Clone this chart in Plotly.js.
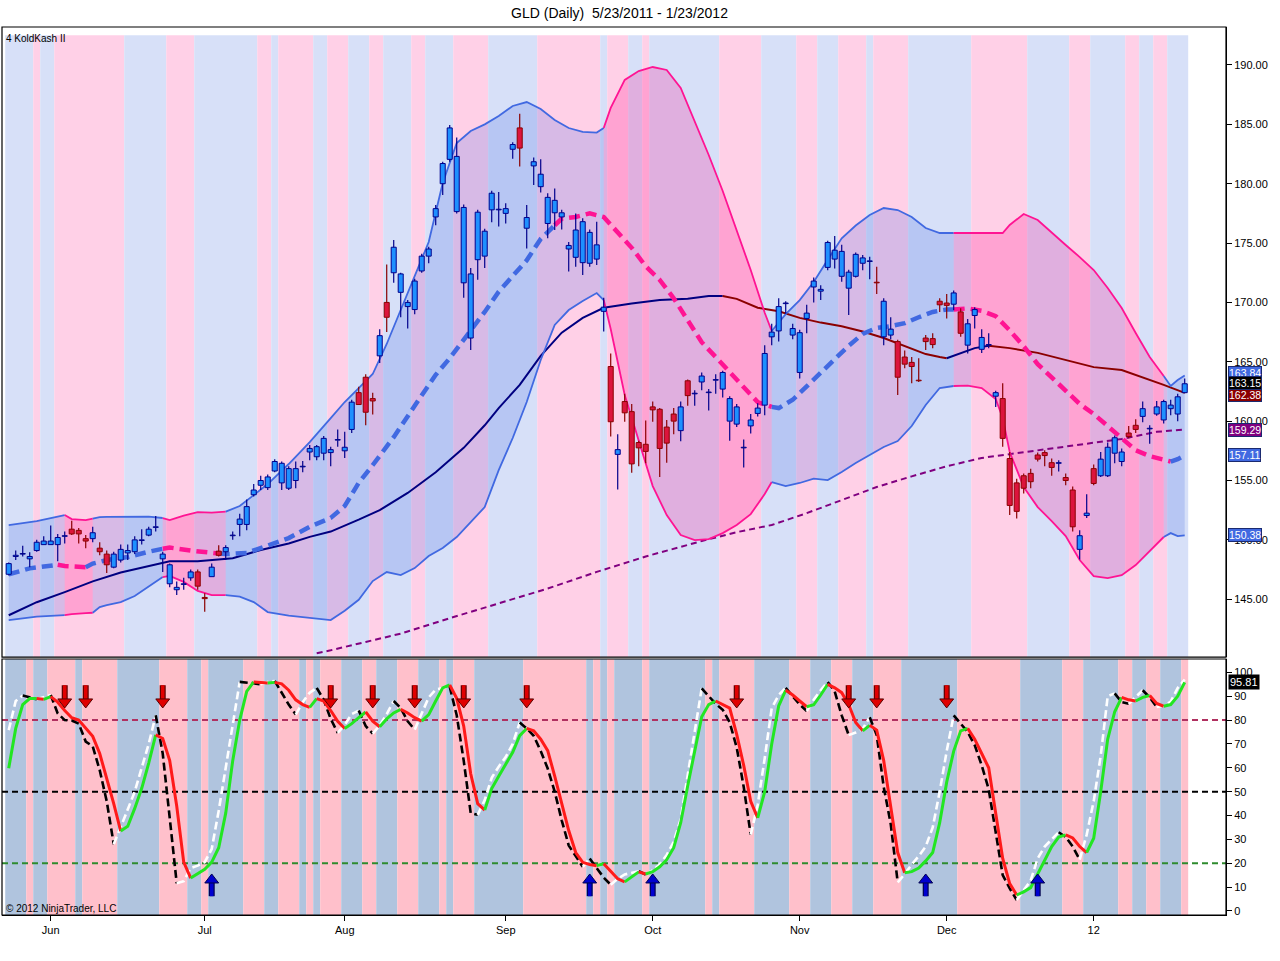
<!DOCTYPE html>
<html>
<head>
<meta charset="utf-8">
<script src="https://cdn.plot.ly/plotly-3.0.1.min.js"></script>
<style>html,body{margin:0;padding:0;background:#fff}#chart{width:1280px;height:961px}</style>
</head>
<body>
<div id="chart"></div>
<script>
// ---------------- DATA ----------------
const chartTitle = 'GLD (Daily)  5/23/2011 - 1/23/2012';
const monthTickIdx = [6, 28, 48, 71, 92, 113, 134, 155];
const monthTickText = ['Jun', 'Jul', 'Aug', 'Sep', 'Oct', 'Nov', 'Dec', '12'];
const priceTicks = [145, 150, 155, 160, 165, 170, 175, 180, 185, 190];
const oscTicks = [0, 10, 20, 30, 40, 50, 60, 70, 80, 90, 100];

const openP = [147.1,148.6,148.8,148.4,149.1,149.6,149.6,149.6,150.3,150.9,
150.8,150.1,150.1,149.3,148.8,147.7,148.3,148.9,149.0,149.95,
150.4,151.05,148.4,146.3,145.8,146.25,146.8,147.3,145.15,146.9,
149.05,149.0,150.35,151.3,151.3,153.8,154.6,154.4,155.8,154.8,
154.35,155.0,156.15,157.4,157.0,157.3,157.35,158.4,157.5,159.3,
162.4,163.7,161.9,165.5,170.0,172.5,170.85,169.65,169.4,172.65,
173.9,177.2,180.0,182.05,177.65,171.65,167.0,173.6,173.9,177.8,
177.8,177.5,182.9,184.7,176.25,181.5,179.75,176.65,177.55,177.2,
174.5,173.8,173.35,173.3,173.65,169.25,164.6,157.2,161.65,160.8,
158.2,158.05,161.2,161.0,159.5,160.6,159.2,163.4,162.3,163.3,
162.4,163.45,162.7,160.0,159.75,157.75,159.6,160.65,161.35,167.1,
167.6,169.9,167.25,164.1,168.65,171.3,170.95,172.95,173.65,172.2,
171.2,172.2,173.3,173.45,171.7,167.1,167.25,166.7,165.4,164.95,
163.45,167.0,166.95,170.1,169.95,169.85,169.2,166.4,168.9,166.05,
166.4,162.1,161.9,156.85,154.8,155.4,155.6,157.15,157.35,156.5,
156.45,155.25,154.2,149.2,152.05,156.0,155.4,155.4,157.3,156.6,
159.0,159.65,160.4,159.35,160.6,160.1,161.05,160.6,162.4];

const highP = [148.1,149.1,149.5,148.95,150.0,150.3,151.2,150.5,150.7,151.6,
151.0,150.4,151.1,149.8,149.1,149.0,149.6,149.6,150.3,150.9,
151.1,152.0,149.0,148.0,146.5,146.8,147.5,147.5,145.5,148.0,
149.55,149.55,150.7,152.2,153.4,154.7,155.4,155.5,156.8,156.6,
156.2,156.6,156.65,158.0,158.0,158.75,157.85,159.3,159.1,161.8,
162.9,163.95,162.4,167.75,173.2,175.25,172.5,170.2,172.0,174.1,
174.7,178.2,181.85,184.95,183.9,178.25,172.9,177.8,176.2,179.4,
179.3,178.35,183.5,185.9,178.2,182.2,182.05,179.2,179.6,177.8,
175.1,177.5,177.1,176.15,176.8,170.4,165.7,158.9,162.3,161.45,
158.35,160.05,161.65,161.1,160.1,161.1,161.65,163.5,162.6,164.1,
162.7,163.95,164.25,162.1,161.45,158.45,160.6,161.5,166.4,168.2,
170.35,170.1,168.2,167.7,169.8,172.1,171.45,175.2,175.6,174.85,
172.75,174.2,174.0,173.85,173.0,170.35,168.75,166.85,165.95,165.4,
165.3,167.25,167.4,170.35,170.7,171.0,169.5,168.6,169.6,167.75,
167.4,162.55,163.2,157.4,155.15,155.6,156.0,157.35,157.55,156.85,
156.7,155.6,154.5,150.8,153.85,156.35,157.4,158.2,158.8,157.7,
159.6,160.15,161.65,159.65,161.7,161.8,161.8,162.3,163.6];

const lowP = [147.0,148.3,148.6,147.7,149.0,149.6,149.6,148.2,149.7,150.4,
149.7,149.3,149.8,148.7,147.2,147.6,148.1,148.3,148.8,149.6,
150.3,150.7,147.3,146.0,145.35,145.8,146.55,145.8,143.95,146.9,
148.6,148.3,150.0,150.3,150.8,153.65,154.2,154.2,155.7,154.2,
154.2,154.35,155.7,156.7,156.7,156.7,156.2,157.85,156.9,159.0,
161.35,159.65,160.55,164.9,167.5,171.65,168.75,167.8,169.0,172.5,
173.3,176.5,179.05,181.85,177.5,170.4,166.0,171.9,172.9,176.75,
176.4,176.65,182.1,181.45,174.55,179.9,179.25,175.4,176.1,176.15,
172.6,173.0,172.3,173.0,173.15,167.55,158.7,154.25,159.95,155.65,
156.2,156.45,159.95,155.3,156.5,158.9,158.3,161.3,161.3,162.6,
160.9,162.3,162.0,158.35,159.5,156.1,158.95,160.4,160.5,166.4,
166.7,169.05,166.9,163.6,167.4,170.0,170.2,172.7,172.85,171.75,
168.95,172.1,172.7,171.95,170.7,166.4,166.9,162.2,164.45,163.2,
163.3,166.0,166.15,169.2,168.65,169.35,167.1,165.7,167.8,165.75,
166.15,161.2,157.85,152.1,151.8,153.9,154.35,156.6,156.2,155.4,
155.75,154.6,150.7,148.35,151.85,154.6,155.3,155.3,156.45,156.2,
158.55,159.0,159.9,158.1,160.45,159.8,160.5,160.0,162.35];

const closeP = [148.0,148.7,148.85,148.6,149.8,149.9,149.9,150.2,150.35,150.5,
150.5,149.9,150.6,149.0,147.9,148.8,149.2,149.1,150.0,150.0,
150.9,151.1,148.8,147.9,146.0,146.3,147.3,146.1,145.05,147.7,
148.7,149.35,150.4,151.75,152.8,154.2,155.0,155.3,156.6,156.45,
156.0,156.0,156.2,157.7,157.85,158.55,157.6,158.45,157.8,161.6,
161.4,160.75,161.7,167.2,168.75,174.65,172.4,170.0,171.8,173.9,
174.5,177.9,181.7,184.7,182.3,178.0,172.4,177.6,176.0,179.2,
177.85,177.9,183.3,183.0,177.15,181.85,180.8,178.85,178.6,177.55,
174.8,176.1,176.8,175.9,174.85,169.6,159.95,157.6,160.7,156.4,
157.75,157.45,160.95,157.7,158.15,160.0,161.2,162.15,162.35,163.8,
162.45,163.5,164.1,161.9,161.2,157.8,160.1,161.1,165.7,167.5,
169.65,169.95,167.8,167.45,169.1,171.8,171.1,175.05,174.4,174.3,
172.55,174.05,173.75,173.5,171.65,170.1,167.75,163.7,164.8,164.6,
163.4,166.7,166.45,169.8,169.75,170.8,167.4,168.2,169.4,167.05,
166.45,162.4,158.55,152.9,152.4,154.35,154.9,156.8,157.1,156.1,
156.5,155.0,151.1,150.35,152.25,154.75,156.8,157.8,158.6,157.4,
158.7,159.3,161.05,159.4,161.2,161.65,161.35,162.05,163.15];

// Envelope bands (read at sampled bars)
const bandIdx = [0,4,8,9,11,12,13,14,16,18,20,22,23,25,27,29,31,33,35,37,
40,43,46,48,50,52,54,56,58,60,62,64,66,68,70,72,74,76,78,80,
82,84,85,86,88,90,92,94,96,98,100,102,104,106,108,109,111,113,115,117,
119,121,123,125,127,129,131,133,135,137,139,141,142,143,145,147,149,151,153,155,
157,159,161,163,165,166,167,168];
const upperBand = [151.25,151.58,152.09,151.75,151.67,151.79,151.92,151.94,151.95,151.95,
151.95,151.84,151.67,152.05,152.34,152.30,152.38,152.85,153.77,154.70,
156.39,158.24,160.26,161.61,162.79,163.97,166.50,169.36,172.14,175.09,
180.06,183.43,184.44,185.00,185.70,186.55,186.88,186.29,185.37,184.69,
184.36,184.31,184.69,186.38,188.74,189.49,189.83,189.58,188.06,185.20,
182.42,179.39,176.05,172.73,169.13,167.59,169.02,170.20,171.72,173.60,
175.40,176.48,177.36,177.95,177.78,177.19,176.27,175.85,175.85,175.85,
175.85,175.81,175.85,176.52,177.45,176.94,175.93,174.84,173.82,172.73,
171.21,169.53,167.42,165.40,163.80,162.96,163.46,163.84];
const lowerBand = [143.24,143.54,143.66,143.75,143.83,143.86,144.34,144.51,144.76,145.27,
146.08,146.87,146.97,146.46,145.70,145.35,145.35,145.22,144.76,143.92,
143.62,143.41,143.24,144.03,144.95,146.53,147.29,147.03,147.62,148.64,
149.31,150.24,151.50,152.76,155.88,158.58,161.61,165.15,168.10,169.36,
170.12,170.79,170.20,167.76,162.20,158.41,154.53,152.09,150.40,149.98,
150.07,150.57,151.25,152.17,153.86,154.87,154.53,154.79,155.16,155.04,
155.71,156.47,157.14,157.82,158.32,159.59,161.36,162.79,162.96,163.00,
162.79,161.86,160.26,157.40,154.45,152.76,151.58,150.32,148.30,146.95,
146.78,147.03,147.88,149.06,150.24,150.57,150.32,150.38];
const bandDownRuns = [[9,12],[23,31],[86,109],[137,165]];

const midIdx = [0,3,7,8,11,12,14,17,20,22,23,26,29,30,31,34,37,40,43,46,
48,50,52,55,58,61,63,65,68,70,72,74,76,78,79,81,83,85,87,89,
91,93,95,97,99,101,103,105,107,109,110,112,114,116,118,120,122,124,126,128,
130,132,134,135,137,139,141,143,145,147,149,151,153,155,157,159,161,163,165,166,
167,168];
const midBand = [147.1,147.6,147.9,147.8,147.7,148.0,148.3,148.55,149.0,149.25,
149.35,149.1,148.95,148.85,148.8,148.9,149.5,150.15,151.1,151.85,
152.85,154.8,156.3,158.65,161.3,163.9,165.3,166.85,169.2,170.9,
172.2,173.55,175.35,176.5,177.05,177.2,177.5,177.2,175.85,174.6,
173.05,171.9,170.35,168.5,166.65,165.4,164.15,162.95,161.6,161.2,
161.1,161.8,162.95,164.05,165.25,166.35,167.35,167.85,168.0,168.25,
168.75,169.2,169.4,169.4,169.5,169.3,168.85,167.65,166.3,164.8,
163.7,162.6,161.45,160.6,159.6,158.6,157.55,157.05,156.7,156.6,
156.8,157.11];
const midDownRuns = [[8,11],[23,30],[79,109],[137,166]];

const smaIdx = [0,4,8,12,16,20,23,27,32,36,40,43,46,50,53,57,61,65,68,70,
73,76,79,82,85,89,93,97,100,102,104,107,110,113,116,119,122,125,128,131,
133,134,136,138,140,143,147,151,155,159,162,165,168];
const smaVals = [143.65,144.75,145.6,146.5,147.25,147.8,148.2,148.2,148.45,149.15,
149.7,150.25,150.7,151.7,152.5,153.95,155.7,157.75,159.65,161.1,
163.05,165.5,167.45,168.7,169.55,169.9,170.2,170.3,170.55,170.55,
170.3,169.55,169.25,168.7,168.3,168.0,167.55,167.0,166.3,165.65,
165.4,165.3,165.7,166.15,166.35,166.15,165.75,165.15,164.55,164.3,
163.7,163.05,162.38];
const smaDownRuns = [[104,134],[141,168]];

const longMaIdx = [44,46,51,56,63,70,77,84,91,99,104,109,114,119,124,129,134,139,144,149,154,159,164,168];
const longMaVals = [140.45,140.7,141.4,142.1,143.4,144.65,145.9,147.3,148.6,149.9,150.65,151.25,152.25,153.35,154.45,155.35,156.2,156.9,157.3,157.65,158.05,158.5,159.1,159.29];

// Background regimes (bar ranges that are pink)
const upperPinkRuns = [[4,4],[7,16],[23,26],[36,37],[39,43],[46,48],[52,53],[58,59],[64,68],[76,84],[86,88],[91,91],[102,107],[113,115],[119,122],[124,128],[138,145],[152,154],[160,161],[164,165]];
const lowerPinkRuns = [[3,3],[6,9],[11,15],[22,25],[28,28],[34,36],[39,41],[43,43],[45,47],[51,52],[56,58],[62,62],[64,66],[74,82],[84,84],[86,86],[91,91],[100,100],[102,106],[112,114],[118,120],[124,127],[136,144],[151,153],[159,160],[163,164],[168,168]];

// Oscillator
const oscD = [59.8,76.5,86.5,89,89,88.7,89.8,87.5,84,81,
80,76.7,73.2,66,55.6,45,33.5,35.5,43,51.4,
62,73.8,72.3,63,44,20.5,13.8,15.5,17.5,20.5,
26.5,41,63,80,92,96,95.8,95.5,95.8,95.2,
92.5,88.5,86.5,85.3,89,88,84,79.5,76.5,78.5,
81,83.4,79.5,77.2,80.5,83,84.5,83,81,79.6,
82.3,88,93.5,94.7,89.1,77.5,57.5,45,42.3,51.3,
56.5,61.5,66.5,73.5,76.5,75.5,72,67.2,56.5,44.5,
33.7,24.5,20.4,19.5,19,19.8,16.5,13.5,12.2,14.3,
16.4,15.5,16.5,18.5,21.5,26.5,37,52.5,67.5,81.4,
86.5,88,86.5,85,74,61,46,39,50,70,
86,92.5,90.5,88,85.6,86.4,90.5,95,93.5,91.5,
86.5,79,75.5,77.8,75.8,63,44,24.5,16,16.5,
18,21,24.5,37,54,67,75.5,76.5,72,66,
60,41,22,11.5,6.7,8,9.8,15.5,21.5,27,
31,31.9,30.6,27,24.5,30.5,50,72,83.5,89.5,
88.5,88,89.5,90.3,87,85.8,86.5,90,95.81];
const oscK = [75.8,88,90.3,89.5,88.7,89.6,90.5,82.8,80,79.8,
78.5,71,69,59,46,28,35,42.5,50,60,
70,82,66,39,11.6,12.5,18,19,20.5,26,
42,60,78.5,96,95.8,95.4,95,96,96.4,91.5,
86.5,82.3,87.5,91.5,93.5,88.5,80.5,74.6,78,82.5,
84,77.5,74.3,77.8,82.5,88,85,79.5,76,83,
89.5,92.8,93.4,94,82,63,41,40.3,46.5,55.8,
60.5,64.5,70,79,76.5,73.4,67,59.7,50,38,
27.5,23,18.5,22,18,14,11,13.5,15.3,16,
16.7,15.3,17,19.5,23.5,29,38.5,57,75,93.3,
90,86.8,84.3,79,68.5,52,32,44.5,64,85,
90.5,93.5,89.8,86.5,83.8,88.5,92.5,96,92,82,
73.7,74.8,76.3,81.2,73.7,52,36.5,12,15.5,19.5,
23,27,35,50,67,82,78.5,75,69.5,61,
51,32,15,9.5,4.6,8.5,12.8,22,27,30,
33,31,27,21.5,32,46,65,90,91.2,87.5,
86.8,89.5,92.5,89.5,85.5,86,87.7,93.5,97];
const oscLevels = [80, 50, 20];
const sellSignalIdx = [8,11,22,46,52,58,65,74,104,120,124,134];
const buySignalIdx = [29,83,92,131,147];

const priceFlags = [163.84, 162.38, 163.15, 159.29, 157.11, 150.38];
const oscFlag = 95.81;

// ---------------- DRAWING ----------------
const FONT = 'Liberation Sans, Arial, sans-serif';
const N = openP.length;
const barIdx = openP.map((_, i) => i);
const traces = [];

function inRuns(i, runs) { return runs.some(r => i >= r[0] && i <= r[1]); }

function codedLine(xs, ys, runs, upColor, downColor, line, yaxis) {
  const segs = []; let cur = null;
  for (let k = 1; k < xs.length; k++) {
    const down = inRuns(xs[k], runs);
    if (!cur || cur.down !== down) { cur = {down, x: [xs[k-1]], y: [ys[k-1]]}; segs.push(cur); }
    cur.x.push(xs[k]); cur.y.push(ys[k]);
  }
  segs.forEach(s => traces.push({type: 'scatter', mode: 'lines', x: s.x, y: s.y, xaxis: 'x', yaxis,
    line: Object.assign({}, line, {color: s.down ? downColor : upColor}), hoverinfo: 'skip', showlegend: false}));
}

function slopeLine(vals, upColor, downColor, line) {
  const segs = []; let cur = null;
  for (let k = 1; k < vals.length; k++) {
    const up = vals[k] >= vals[k-1];
    if (!cur || cur.up !== up) { cur = {up, x: [k-1], y: [vals[k-1]]}; segs.push(cur); }
    cur.x.push(k); cur.y.push(vals[k]);
  }
  segs.forEach(s => traces.push({type: 'scatter', mode: 'lines', x: s.x, y: s.y, xaxis: 'x', yaxis: 'y2',
    line: Object.assign({}, line, {color: s.up ? upColor : downColor}), hoverinfo: 'skip', showlegend: false}));
}

// band fills
(function () {
  const code = k => inRuns(bandIdx[k], bandDownRuns);
  let k = 1;
  while (k < bandIdx.length) {
    const c = code(k); let end = k;
    while (end + 1 < bandIdx.length && code(end + 1) === c) end++;
    const xs = [], ys = [];
    for (let j = k - 1; j <= end; j++) { xs.push(bandIdx[j]); ys.push(upperBand[j]); }
    for (let j = end; j >= k - 1; j--) { xs.push(bandIdx[j]); ys.push(lowerBand[j]); }
    traces.push({type: 'scatter', mode: 'lines', x: xs, y: ys, fill: 'toself',
      fillcolor: c ? 'rgba(255,20,147,0.24)' : 'rgba(65,105,225,0.21)', line: {width: 0},
      xaxis: 'x', yaxis: 'y', hoverinfo: 'skip', showlegend: false});
    k = end + 1;
  }
})();

// long MA
traces.push({type: 'scatter', mode: 'lines', x: longMaIdx, y: longMaVals, xaxis: 'x', yaxis: 'y',
  line: {color: '#800080', width: 2, dash: '6px,4px'}, hoverinfo: 'skip', showlegend: false});
// SMA
codedLine(smaIdx, smaVals, smaDownRuns, '#000080', '#8b0000', {width: 2}, 'y');
// upper / lower band lines
codedLine(bandIdx, upperBand, bandDownRuns, '#4169e1', '#ff1493', {width: 1.8}, 'y');
codedLine(bandIdx, lowerBand, bandDownRuns, '#4169e1', '#ff1493', {width: 1.8}, 'y');
// middle band
codedLine(midIdx, midBand, midDownRuns, '#4169e1', '#ff1493', {width: 4.5, dash: '11px,6px'}, 'y');

// candles (overlay axis so they sit above the indicator lines)
const isUp = closeP.map((c, i) => c >= openP[i]);
const bodyLo = openP.map((o, i) => Math.min(o, closeP[i]));
const bodyHi = openP.map((o, i) => Math.max(o, closeP[i]));
['up', 'down'].forEach(kind => {
  const xs = [], ys = [];
  barIdx.forEach(i => {
    if ((kind === 'up') !== isUp[i]) return;
    xs.push(i, i, null, i, i, null);
    ys.push(lowP[i], bodyLo[i], null, bodyHi[i], highP[i], null);
  });
  traces.push({type: 'scatter', mode: 'lines', x: xs, y: ys, xaxis: 'x', yaxis: 'y3',
    line: {color: kind === 'up' ? '#00008b' : '#8b0000', width: 1.2}, hoverinfo: 'skip', showlegend: false, connectgaps: false});
});
traces.push({type: 'bar', x: barIdx, base: bodyLo, y: bodyHi.map((h, i) => Math.max(h - bodyLo[i], 0.03)),
  width: 0.72, xaxis: 'x', yaxis: 'y3',
  marker: {color: isUp.map(u => u ? '#1e90ff' : '#dc143c'), line: {color: isUp.map(u => u ? '#00008b' : '#8b0000'), width: 1}},
  hoverinfo: 'skip', showlegend: false});

// oscillator
slopeLine(oscK, '#ffffff', '#000000', {width: 2.6, dash: '8px,4px'});
slopeLine(oscD, '#22e622', '#ff1a1a', {width: 3});

// signal arrows: shaft (outlined) + head, placed at the signal bars
function arrows(idxs, shaftFrom, shaftTo, headAt, symbol, fill, edge) {
  const sx = [], sy = [];
  idxs.forEach(i => { sx.push(i, i, null); sy.push(shaftFrom, shaftTo, null); });
  traces.push({type: 'scatter', mode: 'lines', x: sx, y: sy, xaxis: 'x', yaxis: 'y2',
    line: {color: edge, width: 6}, hoverinfo: 'skip', showlegend: false});
  traces.push({type: 'scatter', mode: 'lines', x: sx, y: sy, xaxis: 'x', yaxis: 'y2',
    line: {color: fill, width: 3.6}, hoverinfo: 'skip', showlegend: false});
  traces.push({type: 'scatter', mode: 'markers', x: idxs, y: idxs.map(() => headAt), xaxis: 'x', yaxis: 'y2',
    marker: {symbol, size: 12, color: fill, line: {color: edge, width: 1}}, hoverinfo: 'skip', showlegend: false});
}
arrows(sellSignalIdx, 94.6, 88.6, 87.6, 'triangle-down', '#e00000', '#5a0000');
arrows(buySignalIdx, 6.2, 12.2, 13.0, 'triangle-up', '#0000d0', '#000050');

// ---------------- SHAPES ----------------
const shapes = [];
function stripes(pinkRuns, pink, blue, yref, y1) {
  let start = 0;
  for (let i = 1; i <= N; i++) {
    if (i === N || inRuns(i, pinkRuns) !== inRuns(start, pinkRuns)) {
      shapes.push({type: 'rect', layer: 'below', xref: 'x', yref, x0: start - 0.5, x1: i - 0.5, y0: 0, y1,
        fillcolor: inRuns(start, pinkRuns) ? pink : blue, line: {width: 0}});
      start = i;
    }
  }
}
stripes(upperPinkRuns, '#ffd0e7', '#d7e0f8', 'y domain', 0.987);
stripes(lowerPinkRuns, '#ffc0cb', '#b0c4de', 'y2 domain', 1);
const levelStyle = {80: '#b03060', 50: '#000000', 20: '#2e8b2e'};
oscLevels.forEach(v => shapes.push({type: 'line', layer: 'below', xref: 'paper', yref: 'y2', x0: 0, x1: 1, y0: v, y1: v,
  line: {color: levelStyle[v], width: 2, dash: '6px,4px'}}));
shapes.push({type: 'rect', xref: 'paper', yref: 'y domain', x0: 0, x1: 1, y0: 0, y1: 1, line: {color: '#000', width: 1.2}, layer: 'above'});
shapes.push({type: 'rect', xref: 'paper', yref: 'y2 domain', x0: 0, x1: 1, y0: 0, y1: 1, line: {color: '#000', width: 1.2}, layer: 'above'});

// ---------------- ANNOTATIONS ----------------
const annotations = [];
const flagStyle = {163.84: ['#4169e1', 3], 162.38: ['#8b0000', -2], 163.15: ['#000000', 1],
  159.29: ['#800080', 0], 157.11: ['#4169e1', 0], 150.38: ['#4169e1', 0]};
priceFlags.forEach(v => annotations.push({xref: 'paper', x: 1, xanchor: 'left', xshift: 2, yref: 'y', y: v, yanchor: 'middle',
  yshift: flagStyle[v][1], text: v.toFixed(2), showarrow: false, bgcolor: flagStyle[v][0], bordercolor: '#1a2a70',
  borderwidth: 1, borderpad: 0, font: {family: FONT, size: 10.5, color: '#ffffff'}}));
annotations.push({xref: 'paper', x: 1, xanchor: 'left', xshift: 2, yref: 'y2', y: oscFlag, yanchor: 'middle',
  text: oscFlag.toFixed(2), showarrow: false, bgcolor: '#000', borderpad: 1, font: {family: FONT, size: 11, color: '#fff'}});
annotations.push({xref: 'paper', x: 0, xanchor: 'left', xshift: 2, yref: 'y domain', y: 1, yanchor: 'middle', yshift: -11,
  text: '4 KoldKash II', showarrow: false, font: {family: FONT, size: 10, color: '#000'}});
annotations.push({xref: 'paper', x: 0, xanchor: 'left', xshift: 2, yref: 'y2 domain', y: 0, yanchor: 'middle', yshift: 7,
  text: '\u00a9 2012 NinjaTrader, LLC', showarrow: false, font: {family: FONT, size: 10, color: '#000'}});

const tickFont = {family: FONT, size: 11, color: '#000'};
const layout = {
  width: 1280, height: 961, autosize: false,
  margin: {l: 2, r: 54, t: 27, b: 46, pad: 0},
  paper_bgcolor: '#ffffff', plot_bgcolor: '#ffffff', showlegend: false,
  title: {text: chartTitle, x: 0.484, xref: 'container', xanchor: 'center', y: 0.986, yref: 'container', yanchor: 'middle',
    font: {family: FONT, size: 14, color: '#000'}},
  xaxis: {range: [-0.96, 173.9], anchor: 'y2', tickmode: 'array', tickvals: monthTickIdx, ticktext: monthTickText,
    ticks: 'outside', ticklen: 5, tickcolor: '#000', showline: true, linecolor: '#000', linewidth: 1,
    showgrid: false, zeroline: false, tickfont: tickFont, fixedrange: true},
  yaxis: {domain: [0.2905, 1], range: [140.13, 193.2], side: 'right', anchor: 'x', tickmode: 'array', tickvals: priceTicks,
    tickformat: '.2f', ticks: 'outside', ticklen: 5, tickcolor: '#000', showline: true, linecolor: '#000',
    showgrid: false, zeroline: false, tickfont: tickFont, fixedrange: true},
  yaxis2: {domain: [0, 0.2883], range: [-1.68, 105.6], side: 'right', anchor: 'x', tickmode: 'array', tickvals: oscTicks,
    ticks: 'outside', ticklen: 5, tickcolor: '#000', showline: true, linecolor: '#000',
    showgrid: false, zeroline: false, tickfont: tickFont, fixedrange: true},
  yaxis3: {overlaying: 'y', anchor: 'x', range: [140.13, 193.2], visible: false, fixedrange: true},
  shapes, annotations
};

Plotly.newPlot('chart', traces, layout, {displayModeBar: false, staticPlot: true});
</script>
</body>
</html>
